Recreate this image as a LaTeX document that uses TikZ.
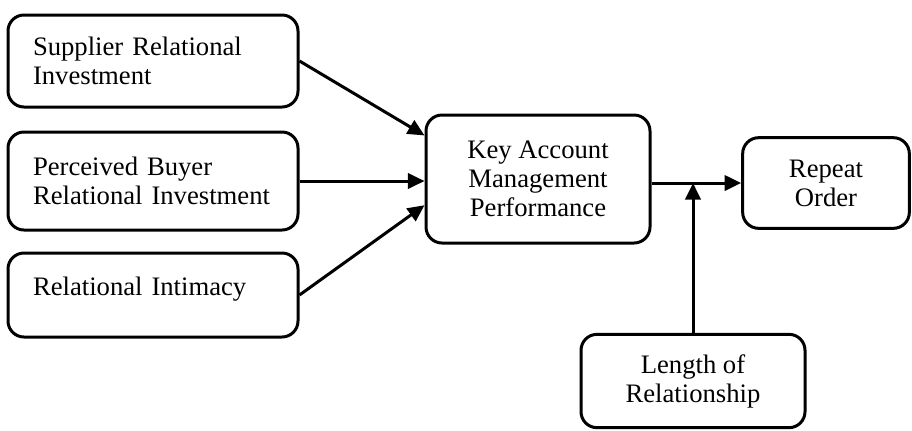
\documentclass[tikz,border=0pt]{standalone}
\usepackage{fontspec}
\setmainfont{Liberation Serif}
\usetikzlibrary{arrows.meta,positioning}

\begin{document}
\begin{tikzpicture}[x=0.75pt,y=-0.75pt,
        font=\fontsize{20}{21.75}\selectfont,
        box/.style={draw,line width=2.25pt,rounded corners=12pt,align=center,inner sep=0pt},
        lbox/.style={box,align=left,text width=180pt,inner xsep=18.75pt,minimum width=217.5pt},
        link/.style={line width=2.25pt,-{Triangle[length=12.5pt,width=11.5pt]}}]
        \useasboundingbox (0,0) rectangle (912,430);
        % left column
        \node[lbox,minimum height=69pt] (sri) at (153,61) {Supplier Relational\\Investment};
        \node[lbox,minimum height=73.5pt] (pbri) at (153,181) {Perceived Buyer\\Relational Investment};
        \node[lbox,minimum height=63pt,text depth=13.5pt] (ri) at (153,295) {Relational Intimacy};
        % middle and right
        \node[box,minimum width=168pt,minimum height=96pt] (kamp) at (538,179) {Key Account\\Management\\Performance};
        \node[box,minimum width=125pt,minimum height=68pt] (ro) at (826,183) {Repeat\\Order};
        \node[box,minimum width=168pt,minimum height=70pt] (lor) at (693,381) {Length of\\Relationship};
        \coordinate (j) at (lor.north |- ro.west);
        \draw[link] (sri.east) -- (kamp.159);
        \draw[link] (pbri.east) -- (kamp.west |- pbri.east);
        \draw[link] (ri.east) -- (kamp.193);
        \draw[link] (kamp.east |- ro.west) -- (ro.west);
        \draw[link] (lor.north) -- (j);
    \end{tikzpicture}
\end{document}
